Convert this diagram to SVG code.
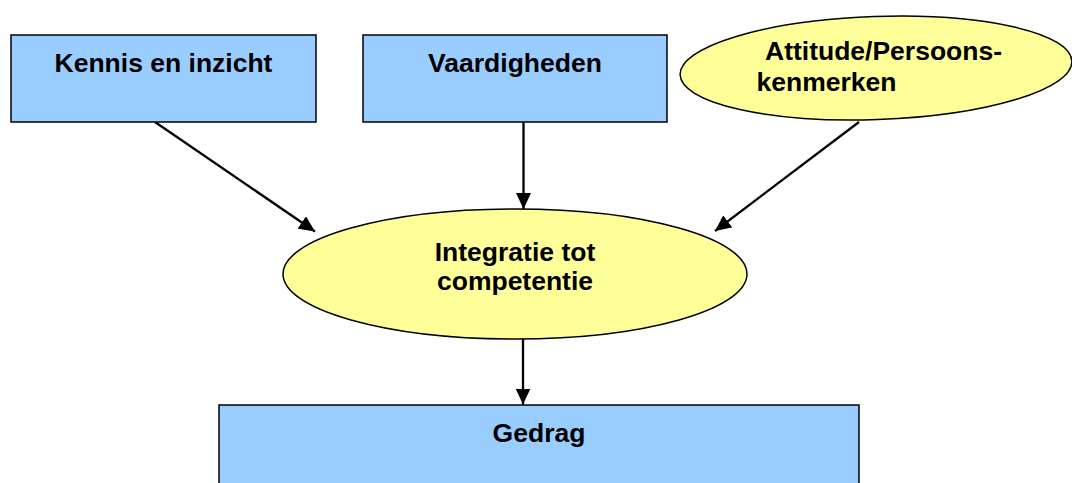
<svg xmlns="http://www.w3.org/2000/svg" width="1072" height="483" viewBox="0 0 1072 483">
<style>
.box{fill:#99CCFF;stroke:#000;stroke-width:1.5}
.ell{fill:#FFFF99;stroke:#000;stroke-width:1.5}
.lbl{font-family:"Liberation Sans",Arial,sans-serif;font-weight:bold;font-size:26.5px;fill:#000}
.c{text-anchor:middle}
.edge{stroke:#000;stroke-width:2.3;fill:none;marker-end:url(#ah)}
</style>
<defs>
<marker id="ah" viewBox="0 0 16 15" refX="16" refY="7.5" markerWidth="16" markerHeight="15" markerUnits="userSpaceOnUse" orient="auto">
<path d="M0,0 L16,7.5 L0,15 Z" fill="#000"/>
</marker>
</defs>
<rect width="1072" height="483" fill="#fff"/>
<g id="connectors">
<line class="edge" x1="155" y1="122" x2="315" y2="231.5"/>
<line class="edge" x1="523.5" y1="122" x2="523.5" y2="209"/>
<line class="edge" x1="859" y1="122" x2="715" y2="231"/>
<line class="edge" x1="523" y1="339" x2="523" y2="404.5"/>
</g>
<g id="node-kennis">
<rect class="box" x="11" y="35" width="305" height="87"/>
<text class="lbl c" x="163.5" y="72">Kennis en inzicht</text>
</g>
<g id="node-vaardigheden">
<rect class="box" x="363" y="35" width="304" height="87"/>
<text class="lbl c" x="515" y="72">Vaardigheden</text>
</g>
<g id="node-attitude">
<ellipse class="ell" cx="876" cy="68" rx="196" ry="51.5" transform="rotate(-2 876 68)"/>
<text class="lbl" x="765" y="60">Attitude/Persoons-</text>
<text class="lbl" x="756.5" y="91">kenmerken</text>
</g>
<g id="node-integratie">
<ellipse class="ell" cx="515" cy="274" rx="232" ry="65"/>
<text class="lbl c" x="515" y="261">Integratie tot</text>
<text class="lbl c" x="515" y="290">competentie</text>
</g>
<g id="node-gedrag">
<rect class="box" x="219" y="405" width="640" height="90"/>
<text class="lbl c" x="539" y="442">Gedrag</text>
</g>
</svg>
